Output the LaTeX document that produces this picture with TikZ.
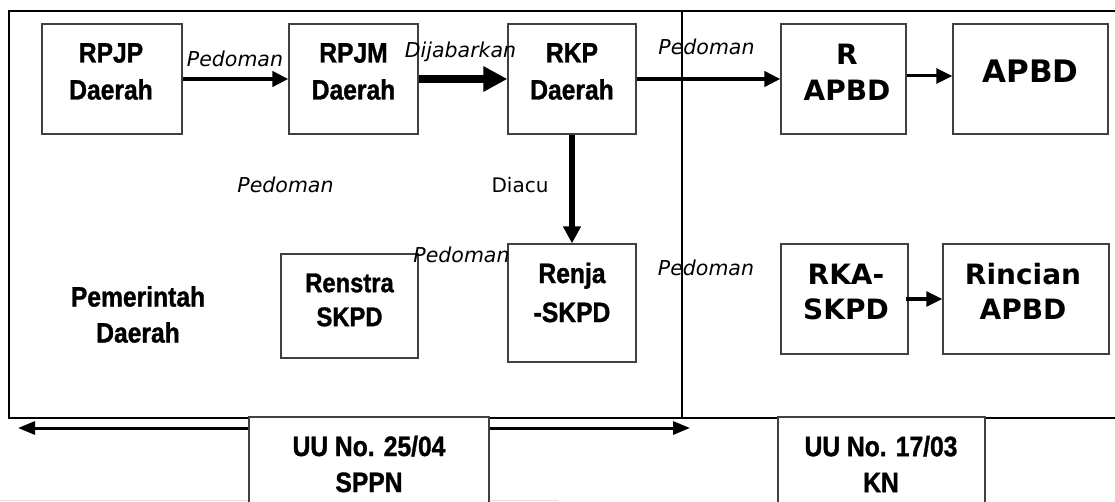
\documentclass[tikz,border=0pt]{standalone}
\usepackage{fontspec}
\usetikzlibrary{arrows.meta}
\newfontfamily\narf[FakeStretch=0.88,FakeBold=1.2]{Liberation Sans}
\newfontfamily\dvf{DejaVu Sans}
\definecolor{boxline}{HTML}{404040}
\tikzset{
  box/.style={draw=boxline, line width=1.3pt, fill=white, inner sep=0pt},
  frameline/.style={draw=black, line width=1.6pt},
  nartxt/.style={font=\narf\bfseries\fontsize{28}{37}\selectfont, align=center, inner sep=0pt},
  dvtxt/.style={font=\dvf\bfseries\fontsize{28}{36}\selectfont, align=center, inner sep=0pt},
  lbl/.style={font=\dvf\itshape\fontsize{20.5}{24}\selectfont, inner sep=0pt, anchor=base},
  lblup/.style={font=\dvf\fontsize{20}{24}\selectfont, inner sep=0pt, anchor=base},
  arrA/.style={line width=4pt, -{Triangle[length=16pt,width=15pt]}},
  arrB/.style={line width=7.5pt, -{Triangle[length=24pt,width=24pt]}},
  arrC/.style={line width=3pt, -{Triangle[length=16pt,width=15pt]}},
  arrD/.style={line width=6pt, -{Triangle[length=17pt,width=17pt]}},
  arrE/.style={line width=3pt, -{Triangle[length=17pt,width=13pt]}}
}
\begin{document}
\begin{tikzpicture}[x=1pt,y=-1pt]
\clip (0,0) rectangle (1115,502);
\fill[white] (0,0) rectangle (1115,502);
% faint line at the bottom
\draw[black!12, line width=1pt] (0,500.5) -- (558,500.5);
% frame
\draw[frameline] (1115,11) -- (9,11) -- (9,418) -- (1115,418);
\draw[frameline] (682,11) -- (682,418);
% boxes
\node[box, minimum width=140pt, minimum height=110pt] (rpjp) at (112,79) {};
\node[box, minimum width=129pt, minimum height=110pt] (rpjm) at (353.5,79) {};
\node[box, minimum width=128pt, minimum height=110pt] (rkp) at (572,79) {};
\node[box, minimum width=125pt, minimum height=110pt] (rapbd) at (843.5,79) {};
\node[box, minimum width=155pt, minimum height=110pt] (apbd) at (1030.5,79) {};
\node[box, minimum width=137pt, minimum height=104pt] (renstra) at (349.5,306) {};
\node[box, minimum width=128pt, minimum height=118pt] (renja) at (572,303) {};
\node[box, minimum width=127pt, minimum height=110pt] (rka) at (844.5,299) {};
\node[box, minimum width=166pt, minimum height=110pt] (rincian) at (1026,299) {};
\node[box, minimum width=240pt, minimum height=110pt] (uua) at (369,472) {};
\node[box, minimum width=207pt, minimum height=110pt] (uub) at (881.5,472) {};
% box texts
\node[nartxt] (trpjp) at (111,71.5) {RPJP\\Daerah};
\node[nartxt] (trpjm) at (353.5,71.5) {RPJM\\Daerah};
\node[nartxt] (trkp) at (572,71.5) {RKP\\Daerah};
\node[dvtxt] (trapbd) at (847,72.5) {R\\APBD};
\node[dvtxt, font=\dvf\bfseries\fontsize{31}{36}\selectfont] (tapbd) at (1030.5,71.5) {APBD};
\node[nartxt, font=\narf\bfseries\fontsize{27}{34}\selectfont] (trenstra) at (349.5,300) {Renstra\\SKPD};
\node[nartxt, font=\narf\bfseries\fontsize{28}{39}\selectfont] (trenja) at (572,292.5) {Renja\\-SKPD};
\node[dvtxt, font=\dvf\bfseries\fontsize{28}{35}\selectfont] (trka) at (846,292) {RKA-\\SKPD};
\node[dvtxt, font=\dvf\bfseries\fontsize{28}{35}\selectfont] (trincian) at (1023,291.5) {Rincian\\APBD};
\node[nartxt, font=\narf\bfseries\fontsize{28}{36}\selectfont] (pemda) at (138,314.5) {Pemerintah\\Daerah};
\node[nartxt, font=\narf\bfseries\fontsize{28}{36}\selectfont] (tuua) at (369,464) {UU No. 25/04\\SPPN};
\node[nartxt, font=\narf\bfseries\fontsize{28}{36}\selectfont] (tuub) at (881,464) {UU No. 17/03\\KN};
% connectors
\draw[arrA] (rpjp.east) -- (rpjm.west);
\draw[arrB] (rpjm.east) -- (rkp.west);
\draw[arrA] (rkp.east) -- (rapbd.west);
\draw[arrC] ([yshift=3pt]rapbd.east) -- ([yshift=3pt]apbd.west);
\draw[arrD] (rkp.south) -- (renja.north);
\draw[arrC] ([xshift=-3pt]rka.east) -- (rincian.west);
\coordinate (lt) at (18,428);
\coordinate (rt) at (690,428);
\draw[arrE] (uua.west |- lt) -- (lt);
\draw[arrE] (uua.east |- rt) -- (rt);
% labels
\node[lbl] (l1) at (235,67) {Pedoman};
\node[lbl] (l2) at (460.5,58) {Dijabarkan};
\node[lbl] (l3) at (706.5,55) {Pedoman};
\node[lbl] (l4) at (285.5,193) {Pedoman};
\node[lblup] (l5) at (520,193) {Diacu};
\node[lbl] (l6) at (461.5,263) {Pedoman};
\node[lbl] (l7) at (706,276) {Pedoman};
\end{tikzpicture}
\end{document}
